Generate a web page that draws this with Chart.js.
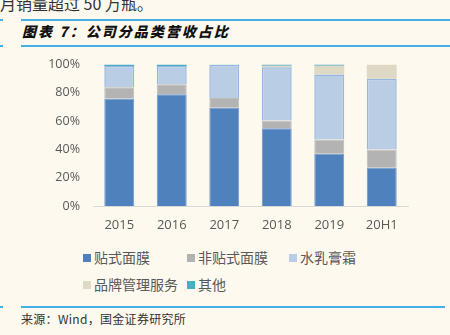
<!DOCTYPE html>
<html>
<head>
<meta charset="utf-8">
<script src="https://cdn.jsdelivr.net/npm/chart.js@4/dist/chart.umd.min.js"></script>
<style>
  html, body { margin: 0; padding: 0; }
  body { width: 450px; height: 335px; background: #fef9ef; position: relative; overflow: hidden;
         font-family: "Noto Sans CJK SC", "Noto Sans", sans-serif; }
  .line { position: absolute; height: 2px; background: #45b0e5; }
  #top { position: absolute; left: 0; top: -9px; font-size: 16px; color: #333; white-space: nowrap; }
  #title { position: absolute; left: 22px; top: 21px; font-size: 14px; font-weight: 900; font-style: italic;
           letter-spacing: 2px; color: #111; white-space: nowrap; }
  #source { position: absolute; left: 21px; top: 310px; font-size: 12px; color: #333; white-space: nowrap; letter-spacing: 0.3px; }
  #wrap { position: absolute; left: 0; top: 44px; width: 450px; height: 196px; }
  .leg { position: absolute; font-size: 14px; color: #595959; white-space: nowrap; line-height: 18px; }
  .leg i { display: inline-block; width: 8px; height: 8px; margin-right: 3px; vertical-align: 1px; }
</style>
</head>
<body>
<div id="top">月销量超过 50 万瓶。</div>
<div class="line" style="left:0;width:3px;top:19px"></div>
<div class="line" style="left:21px;width:429px;top:19px"></div>
<div id="title">图表 7：公司分品类营收占比</div>
<div class="line" style="left:0;width:3px;top:45px"></div>
<div class="line" style="left:21px;width:429px;top:45px"></div>
<div id="wrap"><canvas id="c"></canvas></div>
<div id="legend"></div>
<div class="line" style="left:0;width:3px;top:306px"></div>
<div class="line" style="left:21px;width:424px;top:306px"></div>
<div id="source">来源：Wind，国金证券研究所</div>
<script>
const years = ["2015", "2016", "2017", "2018", "2019", "20H1"];
const seriesNames = ["贴式面膜", "非贴式面膜", "水乳膏霜", "品牌管理服务", "其他"];
const sheetMask = [76, 79, 69.5, 55, 37, 27];
const otherMask = [8, 7, 6.8, 5.5, 10, 13];
const lotionCream = [15, 13, 23.5, 37.5, 46, 50];
const brandService = [0, 0, 0, 1.2, 6.2, 10];
const others = [1, 1, 0.2, 0.8, 0.8, 0];
const yTicks = [0, 20, 40, 60, 80, 100];

const fills = ["#4f81bd", "#b3b3b3", "#b9cde5", "#ddd9c4", "#4bacc6"];
const borders = ["#6b96cb", "#bcbcbc", "#94b7e2", "#ddd9c4", "#4bacc6"];
const borderWidths = [1, 1, 1.5, 0, 0];
const values = [sheetMask, otherMask, lotionCream, brandService, others];

const datasets = values.map((v, i) => ({
    label: seriesNames[i],
    data: v,
    backgroundColor: fills[i],
    borderColor: borders[i],
    borderWidth: borderWidths[i],
    barPercentage: 0.57,
    categoryPercentage: 1
}));

new Chart(document.getElementById("c"), {
    type: "bar",
    data: { labels: years, datasets: datasets },
    options: {
        responsive: true,
        maintainAspectRatio: false,
        animation: false,
        layout: { padding: { left: 0, right: 42, top: 8, bottom: 0 } },
        plugins: { legend: { display: false }, tooltip: { enabled: false } },
        scales: {
            x: {
                stacked: true,
                grid: { display: false, drawTicks: false },
                border: { color: "#d9d9d9", width: 1 },
                ticks: { color: "#595959", font: { size: 13, family: "'Open Sans', 'Noto Sans'" }, padding: 11 },
                afterFit: s => { s.height = 34; }
            },
            y: {
                stacked: true,
                min: 0,
                max: 100,
                grid: { display: false, drawTicks: false },
                border: { display: false },
                afterBuildTicks: s => { s.ticks = yTicks.map(v => ({ value: v })); },
                ticks: {
                    color: "#595959",
                    font: { size: 12.5, family: "'Open Sans', 'Noto Sans'" },
                    padding: 13,
                    callback: v => v + "%"
                },
                afterFit: s => { s.width = 93; }
            }
        }
    }
});

const legendPos = [[83, 248], [187, 248], [289, 248], [83, 275], [187, 275]];
const legend = document.getElementById("legend");
seriesNames.forEach((name, i) => {
    const d = document.createElement("div");
    d.className = "leg";
    d.style.left = legendPos[i][0] + "px";
    d.style.top = legendPos[i][1] + "px";
    d.innerHTML = '<i style="background:' + fills[i] + ';border:0"></i>' + name;
    legend.appendChild(d);
});
</script>
</body>
</html>
